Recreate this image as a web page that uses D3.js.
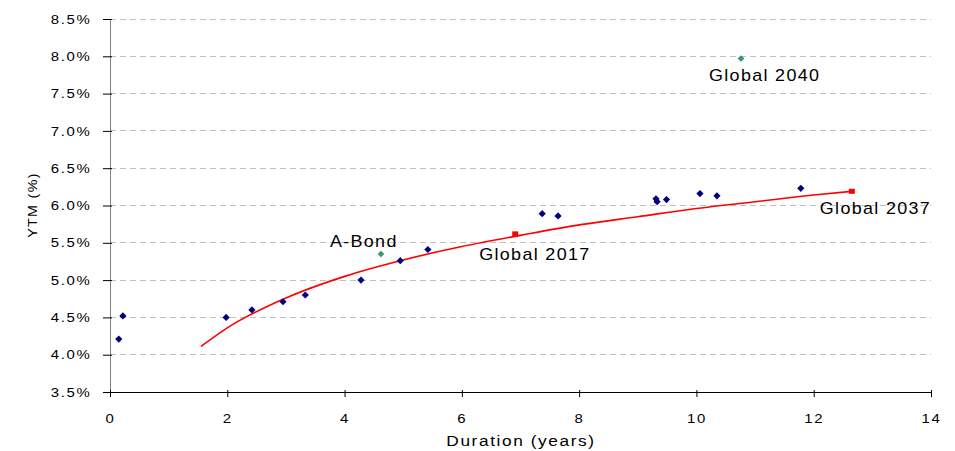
<!DOCTYPE html>
<html><head><meta charset="utf-8">
<script src="https://cdn.jsdelivr.net/npm/d3@7"></script>
<style>body{margin:0;background:#fff}svg{display:block}text{font-family:"Liberation Sans",Arial,sans-serif;fill:#000}</style>
</head><body><svg id="c" width="955" height="451"></svg>
<script>
// Bonds (blue diamonds)
const bondDur = [0.15,0.22,1.98,2.42,2.95,3.33,4.28,4.95,5.42,7.37,7.64,9.31,9.33,9.49,10.06,10.35,11.78];
const bondYtm = [4.21,4.52,4.50,4.60,4.71,4.80,5.00,5.26,5.41,5.89,5.86,6.09,6.05,6.08,6.16,6.13,6.23];
// Global bonds (red squares)
const globalNames = ["Global 2017","Global 2037"];
const globalDur = [6.91,12.65];
const globalYtm = [5.62,6.19];
// Other (green diamonds)
const otherNames = ["A-Bond","Global 2040"];
const otherDur = [4.62,10.76];
const otherYtm = [5.35,7.97];
// Trend line
const trendDur = [1.55,2,3,4,5,6,7,8,9,10,11,12,12.65];
const trendYtm = [4.11,4.36,4.76,5.05,5.27,5.45,5.60,5.74,5.85,5.96,6.05,6.14,6.19];
const xTicks = [0,2,4,6,8,10,12,14];
const yTicks = [3.5,4.0,4.5,5.0,5.5,6.0,6.5,7.0,7.5,8.0,8.5];

const svg = d3.select("#c");
const x = d3.scaleLinear().domain([0,14]).range([110,931]);
const y = d3.scaleLinear().domain([3.5,8.5]).range([392,19]);

// gridlines
svg.append("g").selectAll("line").data(yTicks.filter(d=>d>3.5)).join("line")
  .attr("x1",x(0)).attr("x2",x(14)).attr("y1",d=>y(d)).attr("y2",d=>y(d))
  .attr("stroke","#c0c0c0").attr("stroke-dasharray","6,4").attr("stroke-width",1).attr("shape-rendering","crispEdges");

// y axis
const ya = svg.append("g").attr("transform",`translate(${x(0)},0)`)
  .call(d3.axisLeft(y).tickValues(yTicks).tickFormat(d=>d.toFixed(1)+"%").tickSize(7).tickPadding(9));
ya.select(".domain").attr("stroke","#808080");
ya.selectAll(".tick line").attr("stroke","#000").attr("x2",-7).attr("x1",2);
ya.selectAll("text").attr("font-size",13).attr("letter-spacing","1.5px")
  .attr("font-family","Liberation Sans, Arial, sans-serif")
  .attr("transform","scale(1.15,1)");

// x axis
const xa = svg.append("g").attr("transform",`translate(0,${y(3.5)})`)
  .call(d3.axisBottom(x).tickValues(xTicks).tickSize(5).tickPadding(17));
xa.select(".domain").attr("stroke","#000");
xa.selectAll(".tick line").attr("y1",-2);
xa.selectAll("text").attr("font-size",13).attr("letter-spacing","1.5px")
  .attr("font-family","Liberation Sans, Arial, sans-serif")
  .attr("transform","scale(1.15,1)");

// axis titles
svg.append("text").attr("transform","translate(521,446) scale(1.15,1)").attr("text-anchor","middle")
  .attr("font-size",15).attr("letter-spacing","1.4px").text("Duration (years)");
svg.append("text").attr("transform","translate(37,205) rotate(-90) scale(1.1,1)").attr("text-anchor","middle")
  .attr("font-size",13).attr("letter-spacing","1.2px").text("YTM (%)");

// trend line
const line = d3.line().x(d=>x(d[0])).y(d=>y(d[1])).curve(d3.curveMonotoneX);
svg.append("path").datum(trendDur.map((d,i)=>[d,trendYtm[i]]))
  .attr("d",line).attr("fill","none").attr("stroke","#ff0000").attr("stroke-width",1.6);

// blue points
svg.append("g").selectAll("path").data(bondDur.map((d,i)=>[d,bondYtm[i]])).join("path")
  .attr("d",d3.symbol().type(d3.symbolSquare).size(26)()).attr("fill","#000080")
  .attr("transform",d=>`translate(${x(d[0])},${y(d[1])}) rotate(45)`);
// red squares
svg.append("g").selectAll("rect").data(globalDur.map((d,i)=>[d,globalYtm[i]])).join("rect")
  .attr("x",d=>x(d[0])-3).attr("y",d=>y(d[1])-2.5).attr("width",6).attr("height",5).attr("fill","#ff0000");
// green diamonds
svg.append("g").selectAll("path").data(otherDur.map((d,i)=>[d,otherYtm[i]])).join("path")
  .attr("d",d3.symbol().type(d3.symbolSquare).size(22)()).attr("fill","#339966")
  .attr("transform",d=>`translate(${x(d[0])},${y(d[1])}) rotate(45)`);

// labels
const labels = [
  {t:otherNames[0], d:otherDur[0], v:otherYtm[0], dx:-51, dy:-7},
  {t:otherNames[1], d:otherDur[1], v:otherYtm[1], dx:-32, dy:22},
  {t:globalNames[0], d:globalDur[0], v:globalYtm[0], dx:-36, dy:26},
  {t:globalNames[1], d:globalDur[1], v:globalYtm[1], dx:-32, dy:23}
];
svg.append("g").selectAll("text").data(labels).join("text")
  .attr("transform",d=>`translate(${x(d.d)+d.dx},${y(d.v)+d.dy}) scale(1.12,1)`)
  .attr("text-anchor","start").attr("font-size",16).attr("letter-spacing","1.2px").text(d=>d.t);
</script></body></html>
